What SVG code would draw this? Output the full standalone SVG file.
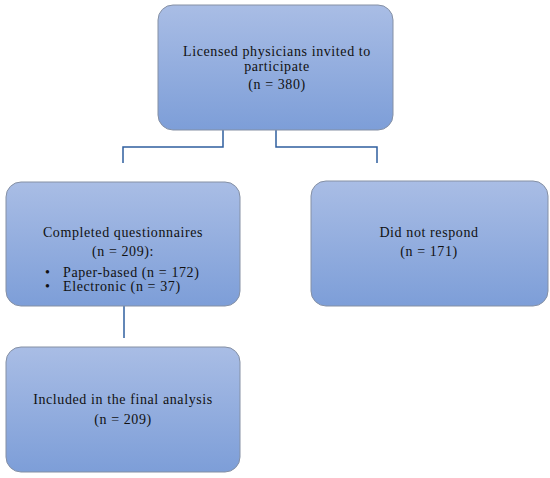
<svg xmlns="http://www.w3.org/2000/svg" width="550" height="478" viewBox="0 0 550 478">
<defs>
<linearGradient id="g" x1="0" y1="0" x2="0" y2="1">
<stop offset="0" stop-color="#a9bde5"/>
<stop offset="1" stop-color="#7d9ed8"/>
</linearGradient>
<style>
.box{fill:url(#g);stroke:#8590a4;stroke-width:1}
.t{font-family:"Liberation Serif",serif;font-size:14px;letter-spacing:0.6px;fill:#111;text-anchor:middle}
.l{font-family:"Liberation Serif",serif;font-size:14px;letter-spacing:0.6px;fill:#111}
.c{fill:none;stroke:#2f5f9f;stroke-width:1.5}
</style>
</defs>
<rect width="550" height="478" fill="#fff"/>
<g id="connectors">
<path class="c" d="M223,130 V147 H123 V163"/>
<path class="c" d="M276,130 V147 H377 V163"/>
<path class="c" d="M124,306 V338"/>
</g>
<g id="invited">
<rect class="box" x="158" y="5" width="235" height="125" rx="15"/>
<text class="t" x="277" y="56">Licensed physicians invited to</text>
<text class="t" x="277" y="71">participate</text>
<text class="t" x="277" y="89">(n = 380)</text>
</g>
<g id="completed">
<rect class="box" x="6" y="182" width="234" height="124" rx="15"/>
<text class="t" x="123" y="237">Completed questionnaires</text>
<text class="t" x="123" y="256">(n = 209):</text>
<text class="l" x="45" y="277">•</text>
<text class="l" x="63" y="277">Paper-based (n = 172)</text>
<text class="l" x="45" y="291">•</text>
<text class="l" x="63" y="291">Electronic (n = 37)</text>
</g>
<g id="noresponse">
<rect class="box" x="311" y="181" width="237" height="125" rx="15"/>
<text class="t" x="429" y="237">Did not respond</text>
<text class="t" x="429" y="256">(n = 171)</text>
</g>
<g id="included">
<rect class="box" x="6" y="347" width="234" height="125" rx="15"/>
<text class="t" x="123" y="404">Included in the final analysis</text>
<text class="t" x="123" y="424">(n = 209)</text>
</g>
</svg>
